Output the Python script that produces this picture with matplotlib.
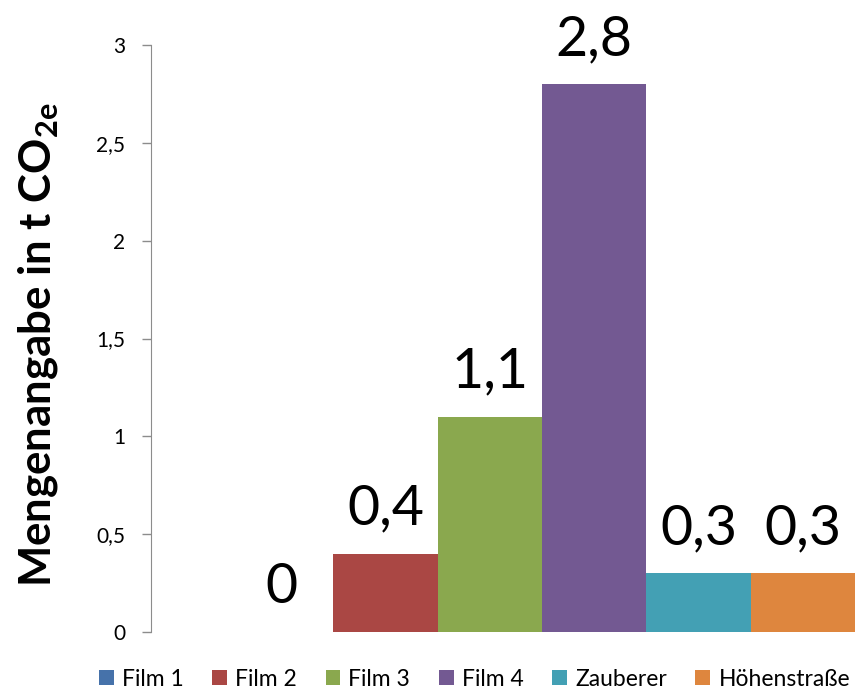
import matplotlib
matplotlib.use("Agg")
import matplotlib.pyplot as plt
from matplotlib.ticker import FuncFormatter

# --- DATA ---------------------------------------------------------------
series = ["Film 1", "Film 2", "Film 3", "Film 4", "Zauberer", "Höhenstraße"]
values = [0, 0.4, 1.1, 2.8, 0.3, 0.3]
colors = ["#4672AA", "#AA4744", "#8AA84E", "#735992", "#43A0B4", "#DE863E"]
yticks = [0, 0.5, 1, 1.5, 2, 2.5, 3]
# ------------------------------------------------------------------------

plt.rcParams["font.family"] = ["Lato", "DejaVu Sans"]
plt.rcParams["mathtext.fontset"] = "custom"
plt.rcParams["mathtext.rm"] = "Lato"
plt.rcParams["mathtext.bf"] = "Lato:bold"


def komma(v, pos=None):
    return f"{v:g}".replace(".", ",")


fig = plt.figure(figsize=(8.58, 6.93), dpi=100)
ax = fig.add_axes([151 / 858, 61 / 693, 707 / 858, 587 / 693])

for i, (name, val, col) in enumerate(zip(series, values, colors)):
    ax.bar(i, val, width=1.0, color=col, label=name)
    ax.annotate(komma(val), (i, val), xytext=(0, 21), textcoords="offset points",
                ha="center", va="baseline", fontsize=40, annotation_clip=False)

ax.set_xlim(-1.25, 5.53)
ax.set_ylim(0, 3)
ax.set_yticks(yticks)
ax.yaxis.set_major_formatter(FuncFormatter(komma))
ax.tick_params(axis="y", direction="out", length=6.5, width=1, color="#8c8c8c",
               labelsize=15, pad=12)
ax.set_xticks([])
for s in ["top", "right", "bottom"]:
    ax.spines[s].set_visible(False)
ax.spines["left"].set_color("#8c8c8c")

ax.set_ylabel(r"Mengenangabe in t CO$_{\mathbf{2e}}$", fontsize=31.5, fontweight="bold")
ax.yaxis.set_label_coords(-0.129, 0.49)

fig.legend(loc="center", bbox_to_anchor=(0.553, 0.02), ncol=6, frameon=False,
           fontsize=16.5, handlelength=0.65, handleheight=0.65, handletextpad=0.35,
           columnspacing=1.25, borderpad=0)

fig.savefig("out.png", dpi=100)
